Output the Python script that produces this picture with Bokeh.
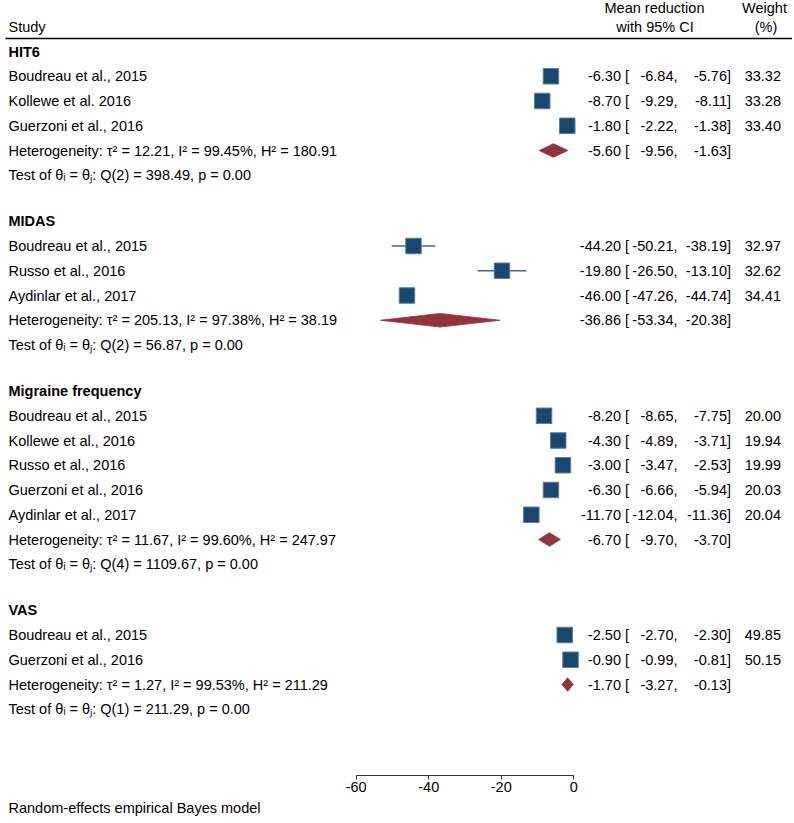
from bokeh.plotting import figure
from bokeh.models import Range1d, LinearAxis, FixedTicker, ColumnDataSource
from bokeh.embed import file_html
from bokeh.resources import INLINE
from bokeh.core.properties import value

# ---------------- data ----------------
group_names = ["HIT6", "MIDAS", "Migraine frequency", "VAS"]

hit6_studies = ["Boudreau et al., 2015", "Kollewe et al. 2016", "Guerzoni et al., 2016"]
hit6_est = [-6.30, -8.70, -1.80]
hit6_lo = [-6.84, -9.29, -2.22]
hit6_hi = [-5.76, -8.11, -1.38]
hit6_w = [33.32, 33.28, 33.40]
hit6_pooled = [-5.60, -9.56, -1.63]
hit6_het = "Heterogeneity: \u03c4\u00b2 = 12.21, I\u00b2 = 99.45%, H\u00b2 = 180.91"
hit6_test = "Q(2) = 398.49, p = 0.00"

midas_studies = ["Boudreau et al., 2015", "Russo et al., 2016", "Aydinlar et al., 2017"]
midas_est = [-44.20, -19.80, -46.00]
midas_lo = [-50.21, -26.50, -47.26]
midas_hi = [-38.19, -13.10, -44.74]
midas_w = [32.97, 32.62, 34.41]
midas_pooled = [-36.86, -53.34, -20.38]
midas_het = "Heterogeneity: \u03c4\u00b2 = 205.13, I\u00b2 = 97.38%, H\u00b2 = 38.19"
midas_test = "Q(2) = 56.87, p = 0.00"

mf_studies = ["Boudreau et al., 2015", "Kollewe et al., 2016", "Russo et al., 2016",
              "Guerzoni et al., 2016", "Aydinlar et al., 2017"]
mf_est = [-8.20, -4.30, -3.00, -6.30, -11.70]
mf_lo = [-8.65, -4.89, -3.47, -6.66, -12.04]
mf_hi = [-7.75, -3.71, -2.53, -5.94, -11.36]
mf_w = [20.00, 19.94, 19.99, 20.03, 20.04]
mf_pooled = [-6.70, -9.70, -3.70]
mf_het = "Heterogeneity: \u03c4\u00b2 = 11.67, I\u00b2 = 99.60%, H\u00b2 = 247.97"
mf_test = "Q(4) = 1109.67, p = 0.00"

vas_studies = ["Boudreau et al., 2015", "Guerzoni et al., 2016"]
vas_est = [-2.50, -0.90]
vas_lo = [-2.70, -0.99]
vas_hi = [-2.30, -0.81]
vas_w = [49.85, 50.15]
vas_pooled = [-1.70, -3.27, -0.13]
vas_het = "Heterogeneity: \u03c4\u00b2 = 1.27, I\u00b2 = 99.53%, H\u00b2 = 211.29"
vas_test = "Q(1) = 211.29, p = 0.00"

axis_ticks = [-60, -40, -20, 0]
axis_labels = ["-60", "-40", "-20", "0"]
footer_text = "Random-effects empirical Bayes model"

groups = [
    (group_names[0], hit6_studies, hit6_est, hit6_lo, hit6_hi, hit6_w, hit6_pooled, hit6_het, hit6_test),
    (group_names[1], midas_studies, midas_est, midas_lo, midas_hi, midas_w, midas_pooled, midas_het, midas_test),
    (group_names[2], mf_studies, mf_est, mf_lo, mf_hi, mf_w, mf_pooled, mf_het, mf_test),
    (group_names[3], vas_studies, vas_est, vas_lo, vas_hi, vas_w, vas_pooled, vas_het, vas_test),
]

# ---------------- layout ----------------
FONT = "Liberation Sans"
FS = "14.5px"
NAVY = "#1a476f"
MAROON = "#90353b"

W, H = 792, 821
AX_L_PX, AX_R_PX = 355.7, 573.3   # screen x of -60 and 0
upp = 60.0 / (AX_R_PX - AX_L_PX)
x_start = -60 - AX_L_PX * upp
x_end = x_start + W * upp

ROW = 24.75
GAP = 46.0
FIRST = 51.0

hdr = dict(x=[], y=[], text=[])
left = dict(x=[], y=[], text=[])
study = dict(est=[], lo=[], hi=[], y=[])
dia_xs, dia_ys = [], []
col_mean = dict(x=[], y=[], text=[])
col_lo = dict(x=[], y=[], text=[])
col_hi = dict(x=[], y=[], text=[])
col_w = dict(x=[], y=[], text=[])

X_LEFT = 8
X_MEAN, X_LO, X_HI, X_W = 628.5, 677.0, 730.5, 780.5

y = FIRST
for gi, (name, names, est, lo, hi, w, pooled, het, test) in enumerate(groups):
    if gi > 0:
        y += GAP
    hdr["x"].append(X_LEFT); hdr["y"].append(y); hdr["text"].append(name)
    for s, e, l, h, ww in zip(names, est, lo, hi, w):
        y += ROW
        left["x"].append(X_LEFT); left["y"].append(y); left["text"].append(s)
        study["est"].append(e); study["lo"].append(l); study["hi"].append(h); study["y"].append(y)
        col_mean["x"].append(X_MEAN); col_mean["y"].append(y); col_mean["text"].append(f"{e:.2f} [")
        col_lo["x"].append(X_LO); col_lo["y"].append(y); col_lo["text"].append(f"{l:.2f},")
        col_hi["x"].append(X_HI); col_hi["y"].append(y); col_hi["text"].append(f"{h:.2f}]")
        col_w["x"].append(X_W); col_w["y"].append(y); col_w["text"].append(f"{ww:.2f}")
    y += ROW
    left["x"].append(X_LEFT); left["y"].append(y); left["text"].append(het)
    pe, pl, ph = pooled
    dia_xs.append([pl, pe, ph, pe]); dia_ys.append([y, y - 6.8, y, y + 6.8])
    col_mean["x"].append(X_MEAN); col_mean["y"].append(y); col_mean["text"].append(f"{pe:.2f} [")
    col_lo["x"].append(X_LO); col_lo["y"].append(y); col_lo["text"].append(f"{pl:.2f},")
    col_hi["x"].append(X_HI); col_hi["y"].append(y); col_hi["text"].append(f"{ph:.2f}]")
    y += ROW
    left["x"].append(X_LEFT); left["y"].append(y)
    left["text"].append("Test of \u03b8\u1d62 = \u03b8\u2c7c: " + test)

p = figure(width=W, height=H, x_range=Range1d(x_start, x_end), y_range=Range1d(H, 0),
           output_backend="svg", toolbar_location=None, x_axis_type=None, y_axis_type=None,
           min_border=0, outline_line_color=None)
p.extra_x_ranges = {"px": Range1d(0, W)}
p.background_fill_color = "white"
p.border_fill_color = "white"

txt = dict(text_font=value(FONT), text_font_size=value(FS), text_baseline="middle", text_color="black")

# header
p.text(x=[X_LEFT], y=[26], text=["Study"], x_range_name="px", text_align="left", **txt)
p.text(x=[654, 654.5], y=[7, 26], text=["Mean reduction", "with 95% CI"], x_range_name="px",
       text_align="center", **txt)
p.text(x=[764, 765.5], y=[7, 26], text=["Weight", "(%)"], x_range_name="px", text_align="center", **txt)
p.segment(x0=[5], x1=[800], y0=[38], y1=[38], x_range_name="px", line_color="black", line_width=1.3)

# left texts
p.text(x="x", y="y", text="text", source=ColumnDataSource(hdr), x_range_name="px",
       text_align="left", text_font_style="bold", **txt)
p.text(x="x", y="y", text="text", source=ColumnDataSource(left), x_range_name="px",
       text_align="left", **txt)

# right columns
for d in (col_mean, col_lo, col_hi, col_w):
    p.text(x="x", y="y", text="text", source=ColumnDataSource(d), x_range_name="px",
           text_align="right", **txt)

# markers
ssrc = ColumnDataSource(study)
p.segment(x0="lo", x1="hi", y0="y", y1="y", source=ssrc, line_color="#3f6a94", line_width=1.3)
p.scatter(x="est", y="y", source=ssrc, marker="square", size=15.5,
          fill_color=NAVY, line_color="#5a7ea3", line_width=1)
p.patches(xs=dia_xs, ys=dia_ys, fill_color=MAROON, line_color=MAROON, line_width=0.8)

# axis
ax = LinearAxis(fixed_location=775, ticker=FixedTicker(ticks=axis_ticks), bounds=(-60, 0),
                major_tick_in=0, major_tick_out=4, minor_tick_in=0, minor_tick_out=0,
                axis_line_color="#333333", major_tick_line_color="#333333",
                major_label_text_font=FONT, major_label_text_font_size=FS,
                major_label_text_color="black", major_label_standoff=2,
                major_label_overrides={t: s for t, s in zip(axis_ticks, axis_labels)})
p.add_layout(ax, "below")

# footer
p.text(x=[X_LEFT], y=[807], text=[footer_text], x_range_name="px", text_align="left", **txt)

open("out.html", "w").write(file_html(p, INLINE))
